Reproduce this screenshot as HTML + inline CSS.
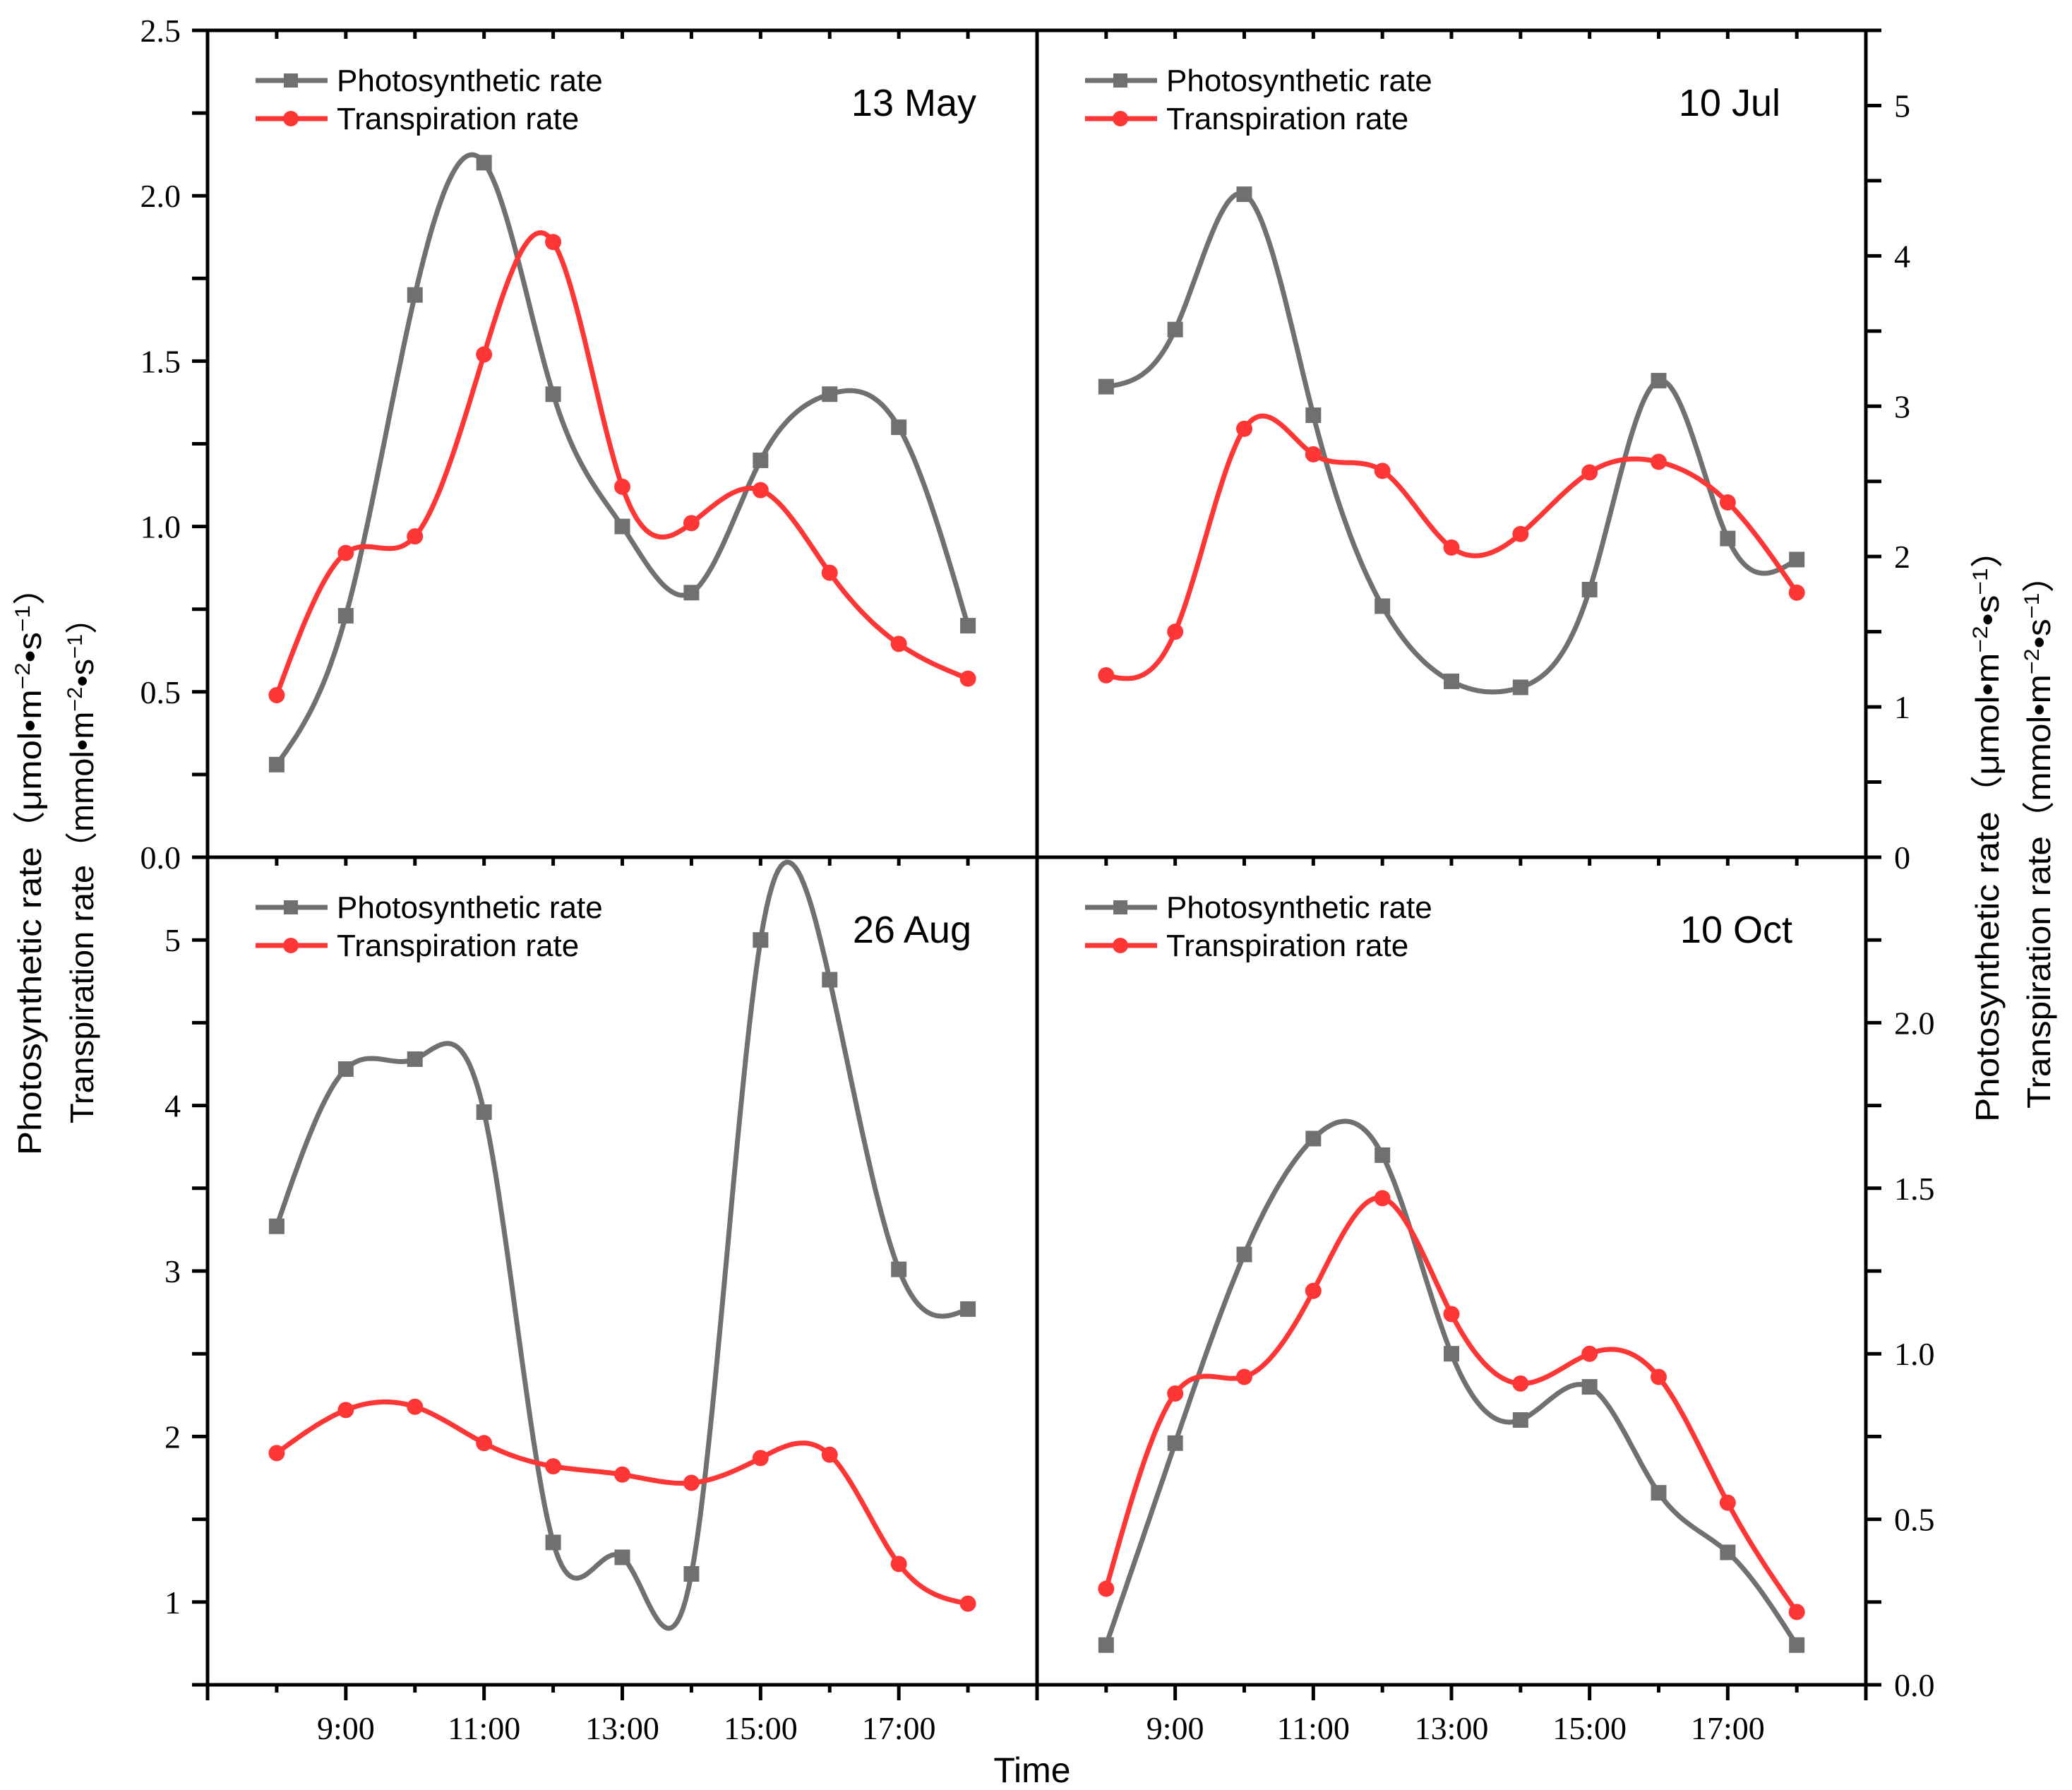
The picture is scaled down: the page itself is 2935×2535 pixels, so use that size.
<!DOCTYPE html>
<html><head><meta charset="utf-8"><style>html,body{margin:0;padding:0;background:#fff}svg{display:block}</style></head>
<body>
<svg id="chart" xmlns="http://www.w3.org/2000/svg" width="2935" height="2535" viewBox="0 0 2935 2535">
<rect x="0" y="0" width="2935" height="2535" fill="#fff"/>
<g id="plots"></g>
<g id="frame"></g>
<text x="1462" y="2524" font-family="Liberation Sans, sans-serif" font-size="50" text-anchor="middle">Time</text>
<text transform="translate(58,1221) rotate(-90)" font-family="Liberation Sans, Noto Sans CJK SC, sans-serif" font-size="46" text-anchor="middle" textLength="830" lengthAdjust="spacingAndGlyphs">Photosynthetic rate（μmol•m<tspan baseline-shift="super" font-size="30">−2</tspan>•s<tspan baseline-shift="super" font-size="30">−1</tspan>）</text>
<text transform="translate(132,1221) rotate(-90)" font-family="Liberation Sans, Noto Sans CJK SC, sans-serif" font-size="46" text-anchor="middle" textLength="740" lengthAdjust="spacingAndGlyphs">Transpiration rate（mmol•m<tspan baseline-shift="super" font-size="30">−2</tspan>•s<tspan baseline-shift="super" font-size="30">−1</tspan>）</text>
<text transform="translate(2831,1171) rotate(-90)" font-family="Liberation Sans, Noto Sans CJK SC, sans-serif" font-size="46" text-anchor="middle" textLength="836" lengthAdjust="spacingAndGlyphs">Photosynthetic rate（μmol•m<tspan baseline-shift="super" font-size="30">−2</tspan>•s<tspan baseline-shift="super" font-size="30">−1</tspan>）</text>
<text transform="translate(2904,1180) rotate(-90)" font-family="Liberation Sans, Noto Sans CJK SC, sans-serif" font-size="46" text-anchor="middle" textLength="780" lengthAdjust="spacingAndGlyphs">Transpiration rate（mmol•m<tspan baseline-shift="super" font-size="30">−2</tspan>•s<tspan baseline-shift="super" font-size="30">−1</tspan>）</text>
</svg>
<script>
const hours = [8,9,10,11,12,13,14,15,16,17,18];
const xTickLabels = ["9:00","11:00","13:00","15:00","17:00"];
const xTickHours = [9,11,13,15,17];
const mayPhoto = [0.28,0.73,1.70,2.10,1.40,1.00,0.80,1.20,1.40,1.30,0.70];
const mayTransp = [0.49,0.92,0.97,1.52,1.86,1.12,1.01,1.11,0.86,0.645,0.54];
const julPhoto = [3.13,3.51,4.41,2.94,1.67,1.17,1.13,1.78,3.17,2.12,1.98];
const julTransp = [1.21,1.50,2.85,2.68,2.57,2.06,2.15,2.56,2.63,2.36,1.76];
const augPhoto = [3.27,4.22,4.28,3.96,1.36,1.27,1.17,5.00,4.76,3.01,2.77];
const augTransp = [1.90,2.16,2.18,1.96,1.82,1.77,1.72,1.87,1.89,1.23,0.99];
const octPhoto = [0.12,0.73,1.30,1.65,1.60,1.00,0.80,0.90,0.58,0.40,0.12];
const octTransp = [0.29,0.88,0.93,1.19,1.47,1.12,0.91,1.00,0.93,0.55,0.22];
const mayYTicks = ["0.0","0.5","1.0","1.5","2.0","2.5"];
const julYTicks = ["0","1","2","3","4","5"];
const augYTicks = ["1","2","3","4","5"];
const octYTicks = ["0.0","0.5","1.0","1.5","2.0"];
const panelTitles = ["13 May","10 Jul","26 Aug","10 Oct"];

const NS = "http://www.w3.org/2000/svg";
const plots = document.getElementById('plots');
const frame = document.getElementById('frame');
function mk(tag, attrs, parent){ const e=document.createElementNS(NS,tag); for(const k in attrs) e.setAttribute(k,attrs[k]); parent.appendChild(e); return e; }

const L=294, M=1469, R=2643, T=43, MID=1214, B=2386;
const GRAY="#707070", RED="#ff3636";

const panels = [
 {name:"may", x0:L, x1:M, y0:T, y1:MID, ymin:0, ymax:2.5, photo:mayPhoto, transp:mayTransp, ticks:mayYTicks, side:"left", major:0.5, minor:0.25, titleRight:1383, title:panelTitles[0]},
 {name:"jul", x0:M, x1:R, y0:T, y1:MID, ymin:0, ymax:5.5, photo:julPhoto, transp:julTransp, ticks:julYTicks, side:"right", major:1, minor:0.5, titleRight:2522, title:panelTitles[1]},
 {name:"aug", x0:L, x1:M, y0:MID, y1:B, ymin:0.5, ymax:5.5, photo:augPhoto, transp:augTransp, ticks:augYTicks, side:"left", major:1, minor:0.5, titleRight:1376, title:panelTitles[2]},
 {name:"oct", x0:M, x1:R, y0:MID, y1:B, ymin:0, ymax:2.5, photo:octPhoto, transp:octTransp, ticks:octYTicks, side:"right", major:0.5, minor:0.25, titleRight:2539, title:panelTitles[3]}
];

function spline(xs, ys){
  const n=xs.length, h=[], a=[], l=[1], mu=[0], z=[0], c=new Array(n).fill(0), b=[], d=[];
  for(let i=0;i<n-1;i++) h[i]=xs[i+1]-xs[i];
  for(let i=1;i<n-1;i++) a[i]=3/h[i]*(ys[i+1]-ys[i])-3/h[i-1]*(ys[i]-ys[i-1]);
  for(let i=1;i<n-1;i++){ l[i]=2*(xs[i+1]-xs[i-1])-h[i-1]*mu[i-1]; mu[i]=h[i]/l[i]; z[i]=(a[i]-h[i-1]*z[i-1])/l[i]; }
  l[n-1]=1; z[n-1]=0;
  for(let j=n-2;j>=0;j--){ c[j]=z[j]-mu[j]*c[j+1]; b[j]=(ys[j+1]-ys[j])/h[j]-h[j]*(c[j+1]+2*c[j])/3; d[j]=(c[j+1]-c[j])/(3*h[j]); }
  const pts=[];
  for(let j=0;j<n-1;j++){ for(let s=0;s<24;s++){ const t=h[j]*s/24; pts.push([xs[j]+t, ys[j]+b[j]*t+c[j]*t*t+d[j]*t*t*t]); } }
  pts.push([xs[n-1], ys[n-1]]);
  return pts;
}

panels.forEach(p=>{
  const xS = h => p.x0 + (h-7)*(p.x1-p.x0)/12;
  const yS = v => p.y1 - (v-p.ymin)*(p.y1-p.y0)/(p.ymax-p.ymin);
  const g = mk('g',{},plots);
  
  
  [[p.photo,GRAY,'photosynthetic'],[p.transp,RED,'transpiration']].forEach(([vals,col,nm])=>{
    const pts = spline(hours, vals).map(q=>xS(q[0]).toFixed(1)+','+yS(q[1]).toFixed(1));
    const pl = mk('polyline',{points:pts.join(' '),fill:'none',stroke:col,'stroke-width':7,'stroke-linejoin':'round'},g);
    
    
    vals.forEach((v,i)=>{
      let m;
      if(nm==='photosynthetic'){ m = mk('rect',{x:xS(hours[i])-11,y:yS(v)-11,width:22,height:22,fill:col},g); }
      else { m = mk('circle',{cx:xS(hours[i]),cy:yS(v),r:11.5,fill:col},g); }
      
      
    });
  });
  const lx = p.x0+68, ly1 = p.y0+71, ly2 = p.y0+125;
  const leg = mk('g',{},g);
  
  
  mk('line',{x1:lx,y1:ly1,x2:lx+102,y2:ly1,stroke:GRAY,'stroke-width':7},leg);
  mk('rect',{x:lx+40,y:ly1-10,width:20,height:20,fill:GRAY},leg);
  const t1 = mk('text',{x:lx+115,y:ly1+15,'font-family':'Liberation Sans, sans-serif','font-size':44},leg);
  t1.textContent = 'Photosynthetic rate';
  
  
  mk('line',{x1:lx,y1:ly2,x2:lx+102,y2:ly2,stroke:RED,'stroke-width':7},leg);
  mk('circle',{cx:lx+50,cy:ly2,r:11,fill:RED},leg);
  const t2 = mk('text',{x:lx+115,y:ly2+15,'font-family':'Liberation Sans, sans-serif','font-size':44},leg);
  t2.textContent = 'Transpiration rate';
  
  
  const tt = mk('text',{x:p.titleRight,y:p.y0+121,'font-family':'Liberation Sans, sans-serif','font-size':54,'text-anchor':'end'},g);
  tt.textContent = p.title;
  
  
  for(let h=7;h<=19;h++){
    const tk = mk('line',{x1:xS(h),y1:p.y0,x2:xS(h),y2:p.y0+12,stroke:'#000','stroke-width':5},frame);
    
    
  }
  const ax = p.side==='left'? p.x0 : p.x1, dir = p.side==='left'? -1 : 1;
  for(let v=p.ymin; v<=p.ymax+1e-6; v+=p.minor){
    const tk = mk('line',{x1:ax,y1:yS(v),x2:ax+dir*22,y2:yS(v),stroke:'#000','stroke-width':5},frame);
    
    
  }
  p.ticks.forEach(lbl=>{
    const v = parseFloat(lbl);
    const tx = mk('text',{x: p.side==='left'? ax-38 : ax+40, y:yS(v)+16,'font-family':'Liberation Serif, serif','font-size':46,'text-anchor': p.side==='left'?'end':'start'},frame);
    tx.textContent = lbl;
    
    
  });
  if(p.y1===B){
    for(let h=7;h<=19;h++){
      const major = (h%2===1);
      const tk = mk('line',{x1:xS(h),y1:B,x2:xS(h),y2:B+(major?22:11),stroke:'#000','stroke-width':5},frame);
      
      
    }
    xTickHours.forEach((h,i)=>{
      const tx = mk('text',{x:xS(h),y:2463,'font-family':'Liberation Serif, serif','font-size':46,'text-anchor':'middle'},frame);
      tx.textContent = xTickLabels[i];
      
      
    });
  }
});
[[L,T,R,T],[L,MID,R,MID],[L,B,R,B],[L,T,L,B],[M,T,M,B],[R,T,R,B]].forEach(c=>{
  const ln = mk('line',{x1:c[0],y1:c[1],x2:c[2],y2:c[3],stroke:'#000','stroke-width':5,'stroke-linecap':'square'},frame);
  
  
});
</script>
</body></html>
